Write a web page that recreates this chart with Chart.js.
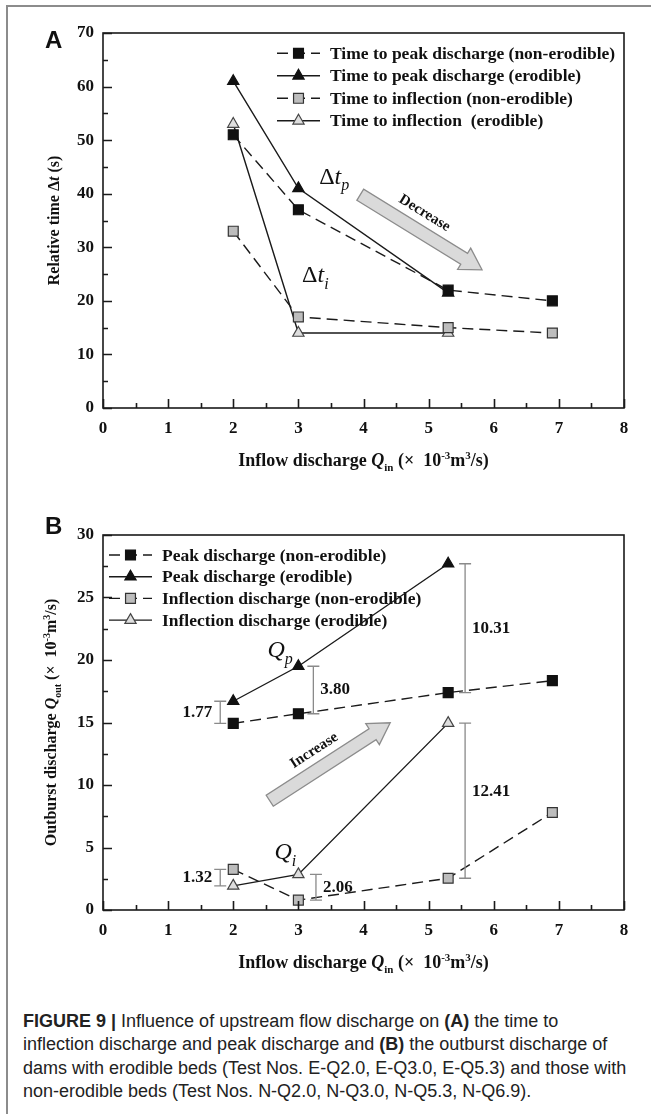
<!DOCTYPE html>
<html>
<head>
<meta charset="utf-8">
<script src="https://cdn.jsdelivr.net/npm/chart.js@4.4.0/dist/chart.umd.min.js"></script>
<style>
html,body{margin:0;padding:0;background:#fff;}
body{width:651px;height:1114px;position:relative;overflow:hidden;}
#frame{position:absolute;left:6px;top:5px;width:800px;height:1300px;border-top:2px solid #8c8c8c;border-left:2px solid #8c8c8c;}
.wrap{position:absolute;left:0;width:651px;height:500px;}
#wa{top:0;}
#wb{top:502px;}
.panel{position:absolute;left:45px;font:bold 24px "Liberation Sans",Arial,sans-serif;line-height:24px;color:#111;}
#caption{position:absolute;left:23px;top:1010px;font:18px "Liberation Sans",Arial,sans-serif;line-height:23.4px;color:#222;white-space:nowrap;}
</style>
</head>
<body>
<div id="frame"></div>
<div class="wrap" id="wa"><canvas id="ca" width="651" height="500"></canvas></div>
<div class="wrap" id="wb"><canvas id="cb" width="651" height="500"></canvas></div>
<div class="panel" style="top:28px;">A</div>
<div class="panel" style="top:514px;">B</div>
<div id="caption">
<div><b>FIGURE 9 |</b> Influence of upstream flow discharge on <b>(A)</b> the time to</div>
<div>inflection discharge and peak discharge and <b>(B)</b> the outburst discharge of</div>
<div>dams with erodible beds (Test Nos. E-Q2.0, E-Q3.0, E-Q5.3) and those with</div>
<div>non-erodible beds (Test Nos. N-Q2.0, N-Q3.0, N-Q5.3, N-Q6.9).</div>
</div>
<script>
// ---------------- data ----------------
const xNonErodible = [2.0, 3.0, 5.3, 6.9];
const xErodible = [2.0, 3.0, 5.3];

const peakTimeNonErodible = [51, 37, 22, 20];
const peakTimeErodible = [61, 41, 21.5];
const inflectionTimeNonErodible = [33, 17, 15, 14];
const inflectionTimeErodible = [53, 14, 14];

const peakQNonErodible = [14.93, 15.70, 17.39, 18.35];
const peakQErodible = [16.70, 19.50, 27.70];
const inflectionQNonErodible = [3.25, 0.79, 2.54, 7.80];
const inflectionQErodible = [1.93, 2.85, 14.95];

const xTickValues = [0, 1, 2, 3, 4, 5, 6, 7, 8];
const yTickValuesA = [0, 10, 20, 30, 40, 50, 60, 70];
const yTickValuesB = [0, 5, 10, 15, 20, 25, 30];

const seriesNamesA = ['Time to peak discharge (non-erodible)', 'Time to peak discharge (erodible)',
  'Time to inflection (non-erodible)', 'Time to inflection  (erodible)'];
const seriesNamesB = ['Peak discharge (non-erodible)', 'Peak discharge (erodible)',
  'Inflection discharge (non-erodible)', 'Inflection discharge (erodible)'];
const gapLabels = ['1.77', '3.80', '10.31', '1.32', '2.06', '12.41'];

// ---------------- styling ----------------
const SERIF = '"Liberation Serif","Times New Roman",serif';
const INK = '#111';
const STYLES = [
  {pointStyle: 'rect', radius: 7, fill: '#111', stroke: '#111', dash: [11, 6]},
  {pointStyle: 'triangle', radius: 6.5, fill: '#111', stroke: '#111', dash: []},
  {pointStyle: 'rect', radius: 7, fill: '#bdbdbd', stroke: '#333', dash: [11, 6]},
  {pointStyle: 'triangle', radius: 6.5, fill: '#dedede', stroke: '#444', dash: []}
];

function makeDataset(label, xs, ys, st) {
  return {
    label, data: xs.map((x, i) => ({x, y: ys[i]})), showLine: true,
    borderColor: '#1a1a1a', borderWidth: 1.4, borderDash: st.dash, tension: 0, fill: false,
    pointStyle: st.pointStyle, pointRadius: st.radius, pointHoverRadius: st.radius,
    pointBackgroundColor: st.fill, pointBorderColor: st.stroke, pointBorderWidth: 1.2
  };
}

function drawRich(ctx, segs, cx, cy, rot, size) {
  const fontFor = k => {
    const small = (k === 'sub' || k === 'sup');
    const sz = small ? Math.round(size * 0.6) : size;
    const it = (k === 'bi') ? 'italic ' : '';
    return it + 'bold ' + sz + 'px ' + SERIF;
  };
  let w = 0;
  const m = segs.map(([t, k]) => { ctx.font = fontFor(k); const ww = ctx.measureText(t).width; w += ww; return ww; });
  ctx.save();
  ctx.translate(cx, cy); ctx.rotate(rot);
  ctx.fillStyle = INK; ctx.textBaseline = 'alphabetic'; ctx.textAlign = 'left';
  let x = -w / 2; const by = size * 0.34;
  segs.forEach(([t, k], i) => {
    ctx.font = fontFor(k);
    const dy = k === 'sub' ? size * 0.28 : (k === 'sup' ? -size * 0.38 : 0);
    ctx.fillText(t, x, by + dy);
    x += m[i];
  });
  ctx.restore();
}

function drawMath(ctx, px, py, parts, size) {
  const fontFor = k => (k === 'r' ? '' : 'italic ') + (k === 's' ? Math.round(size * 0.66) : size) + 'px ' + SERIF;
  let w = 0;
  const m = parts.map(([t, k]) => { ctx.font = fontFor(k); const ww = ctx.measureText(t).width; w += ww; return ww; });
  ctx.save(); ctx.fillStyle = INK; ctx.textBaseline = 'alphabetic'; ctx.textAlign = 'left';
  let x = px - w / 2; const by = py + size * 0.3;
  parts.forEach(([t, k], i) => { ctx.font = fontFor(k); ctx.fillText(t, x, by + (k === 's' ? size * 0.28 : 0)); x += m[i]; });
  ctx.restore();
}

function blockArrow(ctx, x1, y1, x2, y2, text) {
  const shaftW = 13, headW = 25, headL = 21;
  const dx = x2 - x1, dy = y2 - y1, L = Math.hypot(dx, dy), ux = dx / L, uy = dy / L, nx = -uy, ny = ux;
  const bx = x2 - ux * headL, by = y2 - uy * headL;
  const pts = [[x1 + nx * shaftW / 2, y1 + ny * shaftW / 2], [bx + nx * shaftW / 2, by + ny * shaftW / 2],
    [bx + nx * headW / 2, by + ny * headW / 2], [x2, y2], [bx - nx * headW / 2, by - ny * headW / 2],
    [bx - nx * shaftW / 2, by - ny * shaftW / 2], [x1 - nx * shaftW / 2, y1 - ny * shaftW / 2]];
  ctx.save();
  ctx.beginPath(); pts.forEach((p, i) => i ? ctx.lineTo(p[0], p[1]) : ctx.moveTo(p[0], p[1])); ctx.closePath();
  ctx.fillStyle = '#dadada'; ctx.fill(); ctx.strokeStyle = '#8c8c8c'; ctx.lineWidth = 1.3; ctx.setLineDash([]); ctx.stroke();
  const tx = x1 + ux * L * 0.45 + uy * 18, ty = y1 + uy * L * 0.45 - ux * 18;
  ctx.translate(tx, ty); ctx.rotate(Math.atan2(dy, dx));
  ctx.font = 'bold 15px ' + SERIF; ctx.fillStyle = INK; ctx.textAlign = 'center'; ctx.textBaseline = 'middle';
  ctx.fillText(text, 0, 0);
  ctx.restore();
}

function makeDeco(cfg) {
  return {
    id: 'deco' + cfg.name,
    beforeDatasetsDraw(chart) {
      const ctx = chart.ctx, a = chart.chartArea, L = cfg.legend;
      chart.data.datasets.forEach((ds, i) => {
        const y = a.top + L.top + i * L.rowGap, x0 = a.left + L.left;
        ctx.save();
        ctx.strokeStyle = ds.borderColor; ctx.lineWidth = ds.borderWidth; ctx.setLineDash(ds.borderDash);
        ctx.beginPath(); ctx.moveTo(x0, y); ctx.lineTo(x0 + L.sample, y); ctx.stroke();
        ctx.setLineDash([]);
        ctx.fillStyle = ds.pointBackgroundColor; ctx.strokeStyle = ds.pointBorderColor; ctx.lineWidth = ds.pointBorderWidth;
        Chart.helpers.drawPoint(ctx, {pointStyle: ds.pointStyle, radius: ds.pointRadius, borderWidth: ds.pointBorderWidth, rotation: 0}, x0 + L.sample / 2, y);
        ctx.fillStyle = INK; ctx.font = 'bold ' + L.size + 'px ' + SERIF; ctx.textBaseline = 'middle'; ctx.textAlign = 'left';
        ctx.fillText(ds.label, x0 + L.textOffset, y + 1);
        ctx.restore();
      });
    },
    afterDatasetsDraw(chart) {
      const ctx = chart.ctx, {x, y} = chart.scales;
      (cfg.brackets || []).forEach(b => {
        const px = x.getPixelForValue(b.x), p1 = y.getPixelForValue(b.y1), p2 = y.getPixelForValue(b.y2);
        ctx.save(); ctx.strokeStyle = '#8a8a8a'; ctx.lineWidth = 1.3; ctx.setLineDash([]);
        ctx.beginPath();
        ctx.moveTo(px, p1); ctx.lineTo(px, p2);
        ctx.moveTo(px - 6, p1); ctx.lineTo(px + 6, p1);
        ctx.moveTo(px - 6, p2); ctx.lineTo(px + 6, p2);
        ctx.stroke();
        const ly = y.getPixelForValue(b.labelY !== undefined ? b.labelY : (b.y1 + b.y2) / 2);
        ctx.font = 'bold 17px ' + SERIF; ctx.fillStyle = INK; ctx.textBaseline = 'middle';
        ctx.textAlign = b.side === 'left' ? 'right' : 'left';
        ctx.fillText(b.label, b.side === 'left' ? px - 8 : px + 7, ly);
        ctx.restore();
      });
      (cfg.math || []).forEach(mt => drawMath(ctx, x.getPixelForValue(mt.x), y.getPixelForValue(mt.y), mt.parts, 24));
      (cfg.arrows || []).forEach(ar => blockArrow(ctx, x.getPixelForValue(ar.from[0]), y.getPixelForValue(ar.from[1]),
        x.getPixelForValue(ar.to[0]), y.getPixelForValue(ar.to[1]), ar.text));
    },
    afterDraw(chart) {
      const ctx = chart.ctx, a = chart.chartArea, {x, y} = chart.scales;
      ctx.save(); ctx.strokeStyle = '#1a1a1a'; ctx.lineWidth = 1.6; ctx.setLineDash([]);
      ctx.strokeRect(a.left, a.top, a.right - a.left, a.bottom - a.top);
      ctx.beginPath();
      const xt = xTickValues;
      xt.forEach((v, i) => {
        const px = Math.round(x.getPixelForValue(v)) + 0.5;
        ctx.moveTo(px, a.bottom); ctx.lineTo(px, a.bottom - 9);
        if (i < xt.length - 1) {
          const mx = Math.round(x.getPixelForValue((v + xt[i + 1]) / 2)) + 0.5;
          ctx.moveTo(mx, a.bottom); ctx.lineTo(mx, a.bottom - 5);
        }
      });
      const yt = cfg.yTicks;
      yt.forEach((v, i) => {
        const py = Math.round(y.getPixelForValue(v)) + 0.5;
        ctx.moveTo(a.left, py); ctx.lineTo(a.left + 9, py);
        if (i < yt.length - 1) {
          const my = Math.round(y.getPixelForValue((v + yt[i + 1]) / 2)) + 0.5;
          ctx.moveTo(a.left, my); ctx.lineTo(a.left + 5, my);
        }
      });
      ctx.stroke(); ctx.restore();
      drawRich(ctx, cfg.xTitle, (a.left + a.right) / 2, a.bottom + 52, 0, 18);
      drawRich(ctx, cfg.yTitle, cfg.yTitleX, (a.top + a.bottom) / 2, -Math.PI / 2, 16);
    }
  };
}

function makeChart(canvasId, datasets, yTicks, deco) {
  return new Chart(document.getElementById(canvasId), {
    type: 'scatter',
    data: {datasets},
    options: {
      responsive: false, animation: false, devicePixelRatio: 1, events: [],
      layout: {padding: {left: 0, top: 33, right: 27, bottom: 22}},
      plugins: {legend: {display: false}, tooltip: {enabled: false}},
      scales: {
        x: {
          type: 'linear', position: 'bottom', min: xTickValues[0], max: xTickValues[xTickValues.length - 1],
          afterBuildTicks: s => { s.ticks = xTickValues.map(v => ({value: v})); },
          afterFit: s => { s.height = 70; },
          ticks: {padding: 10, color: INK, font: {family: SERIF, size: 17, weight: 'bold'}, maxRotation: 0, autoSkip: false},
          grid: {display: false, drawTicks: false}, border: {display: false}
        },
        y: {
          type: 'linear', position: 'left', min: yTicks[0], max: yTicks[yTicks.length - 1],
          afterBuildTicks: s => { s.ticks = yTicks.map(v => ({value: v})); },
          afterFit: s => { s.width = 103; },
          ticks: {padding: 9, color: INK, font: {family: SERIF, size: 17, weight: 'bold'}, autoSkip: false},
          grid: {display: false, drawTicks: false}, border: {display: false}
        }
      }
    },
    plugins: [deco]
  });
}

const titleX = [['Inflow discharge ', 'b'], ['Q', 'bi'], ['in', 'sub'], [' (\u00d7  10', 'b'], ['-3', 'sup'], ['m', 'b'], ['3', 'sup'], ['/s)', 'b']];

const datasetsA = [
  makeDataset(seriesNamesA[0], xNonErodible, peakTimeNonErodible, STYLES[0]),
  makeDataset(seriesNamesA[1], xErodible, peakTimeErodible, STYLES[1]),
  makeDataset(seriesNamesA[2], xNonErodible, inflectionTimeNonErodible, STYLES[2]),
  makeDataset(seriesNamesA[3], xErodible, inflectionTimeErodible, STYLES[3])
];
const datasetsB = [
  makeDataset(seriesNamesB[0], xNonErodible, peakQNonErodible, STYLES[0]),
  makeDataset(seriesNamesB[1], xErodible, peakQErodible, STYLES[1]),
  makeDataset(seriesNamesB[2], xNonErodible, inflectionQNonErodible, STYLES[2]),
  makeDataset(seriesNamesB[3], xErodible, inflectionQErodible, STYLES[3])
];

makeChart('ca', datasetsA, yTickValuesA, makeDeco({
  name: 'A', yTicks: yTickValuesA,
  legend: {left: 174, top: 20.3, rowGap: 22.5, sample: 43, textOffset: 53, size: 17.5},
  xTitle: titleX,
  yTitle: [['Relative time ', 'b'], ['\u0394', 'b'], ['t', 'bi'], [' (s)', 'b']], yTitleX: 54,
  math: [
    {x: 3.55, y: 43.2, parts: [['\u0394', 'r'], ['t', 'i'], ['p', 's']]},
    {x: 3.26, y: 24.8, parts: [['\u0394', 'r'], ['t', 'i'], ['i', 's']]}
  ],
  arrows: [{from: [3.95, 39.8], to: [5.82, 25.8], text: 'Decrease'}]
}));

makeChart('cb', datasetsB, yTickValuesB, makeDeco({
  name: 'B', yTicks: yTickValuesB,
  legend: {left: 6, top: 20, rowGap: 21.7, sample: 43, textOffset: 53, size: 17.5},
  xTitle: titleX,
  yTitle: [['Outburst discharge ', 'b'], ['Q', 'bi'], ['out', 'sub'], [' (\u00d7  10', 'b'], ['-3', 'sup'], ['m', 'b'], ['3', 'sup'], ['/s)', 'b']], yTitleX: 51,
  math: [
    {x: 2.72, y: 20.8, parts: [['Q', 'i'], ['p', 's']]},
    {x: 2.80, y: 4.66, parts: [['Q', 'i'], ['i', 's']]}
  ],
  brackets: [
    {x: 1.80, y1: peakQNonErodible[0], y2: peakQErodible[0], label: gapLabels[0], side: 'left'},
    {x: 3.23, y1: peakQNonErodible[1], y2: peakQErodible[1], label: gapLabels[1], side: 'right'},
    {x: 5.56, y1: peakQNonErodible[2], y2: peakQErodible[2], label: gapLabels[2], side: 'right'},
    {x: 1.80, y1: inflectionQErodible[0], y2: inflectionQNonErodible[0], label: gapLabels[3], side: 'left'},
    {x: 3.27, y1: inflectionQNonErodible[1], y2: inflectionQErodible[1], label: gapLabels[4], side: 'right'},
    {x: 5.56, y1: inflectionQNonErodible[2], y2: inflectionQErodible[2], label: gapLabels[5], side: 'right', labelY: 9.45}
  ],
  arrows: [{from: [2.56, 8.74], to: [4.41, 14.98], text: 'Increase'}]
}));
</script>
</body>
</html>
